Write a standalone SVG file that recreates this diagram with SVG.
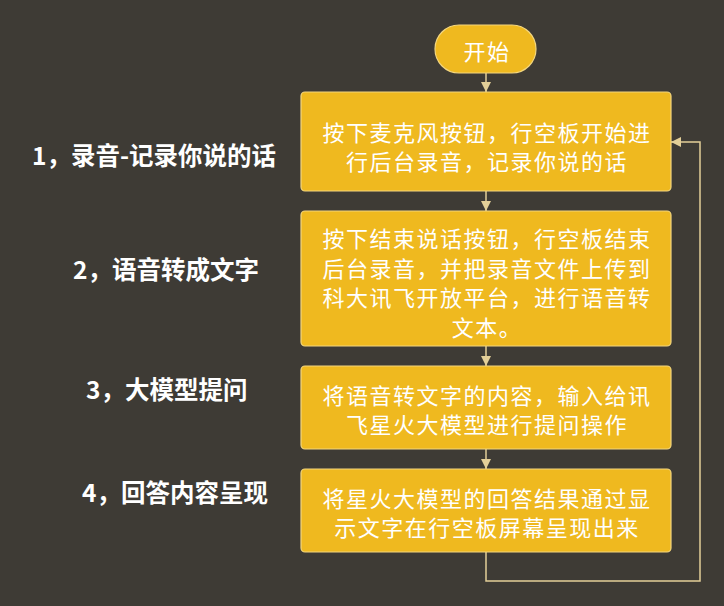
<svg xmlns="http://www.w3.org/2000/svg" width="724" height="606" viewBox="0 0 724 606">
<defs>
<style>
.node{fill:#efb91f;stroke:#f3d67e;stroke-width:1.2}
.t{font-family:"Noto Sans CJK SC","Noto Sans",sans-serif;font-size:22px;letter-spacing:1.5px;fill:#ffffff;text-anchor:middle;dominant-baseline:central}
.lbl{font-family:"Noto Sans CJK SC","Noto Sans",sans-serif;font-size:24.5px;font-weight:bold;fill:#ffffff;dominant-baseline:central}
.c{fill:none;stroke:#e3cf98;stroke-width:1.5}
</style>
<marker id="ah" viewBox="0 0 10 10" refX="10" refY="5" markerWidth="10" markerHeight="10" markerUnits="userSpaceOnUse" orient="auto">
<path d="M0,0 L10,5 L0,10 z" fill="#e3cf98"/>
</marker>
</defs>
<rect width="724" height="606" fill="#3e3b35"/>
<g id="labels">
<text class="lbl" x="32" y="154">1，录音-记录你说的话</text>
<text class="lbl" x="73" y="268">2，语音转成文字</text>
<text class="lbl" x="86" y="388">3，大模型提问</text>
<text class="lbl" x="82" y="491">4，回答内容呈现</text>
</g>
<g id="connectors">
<line class="c" x1="486" y1="73" x2="486" y2="92" marker-end="url(#ah)"/>
<line class="c" x1="486" y1="191" x2="486" y2="211" marker-end="url(#ah)"/>
<line class="c" x1="486" y1="346" x2="486" y2="366" marker-end="url(#ah)"/>
<line class="c" x1="486" y1="449" x2="486" y2="469" marker-end="url(#ah)"/>
<polyline class="c" points="486,552 486,581 700,581 700,142 671,142" marker-end="url(#ah)"/>
</g>
<g id="start">
<rect class="node" x="435" y="25" width="101" height="48" rx="24" ry="24"/>
<text class="t" x="487" y="50">开始</text>
</g>
<g id="step1">
<rect class="node" x="301" y="92" width="370" height="99" rx="4"/>
<text class="t" x="487" y="131">按下麦克风按钮，行空板开始进</text>
<text class="t" x="487" y="160">行后台录音，记录你说的话</text>
</g>
<g id="step2">
<rect class="node" x="301" y="211" width="370" height="135" rx="4"/>
<text class="t" x="487" y="237">按下结束说话按钮，行空板结束</text>
<text class="t" x="487" y="267">后台录音，并把录音文件上传到</text>
<text class="t" x="487" y="296">科大讯飞开放平台，进行语音转</text>
<text class="t" x="487" y="326">文本。</text>
</g>
<g id="step3">
<rect class="node" x="301" y="366" width="370" height="83" rx="4"/>
<text class="t" x="487" y="394">将语音转文字的内容，输入给讯</text>
<text class="t" x="487" y="423">飞星火大模型进行提问操作</text>
</g>
<g id="step4">
<rect class="node" x="301" y="469" width="370" height="83" rx="4"/>
<text class="t" x="487" y="497">将星火大模型的回答结果通过显</text>
<text class="t" x="487" y="526">示文字在行空板屏幕呈现出来</text>
</g>
</svg>
